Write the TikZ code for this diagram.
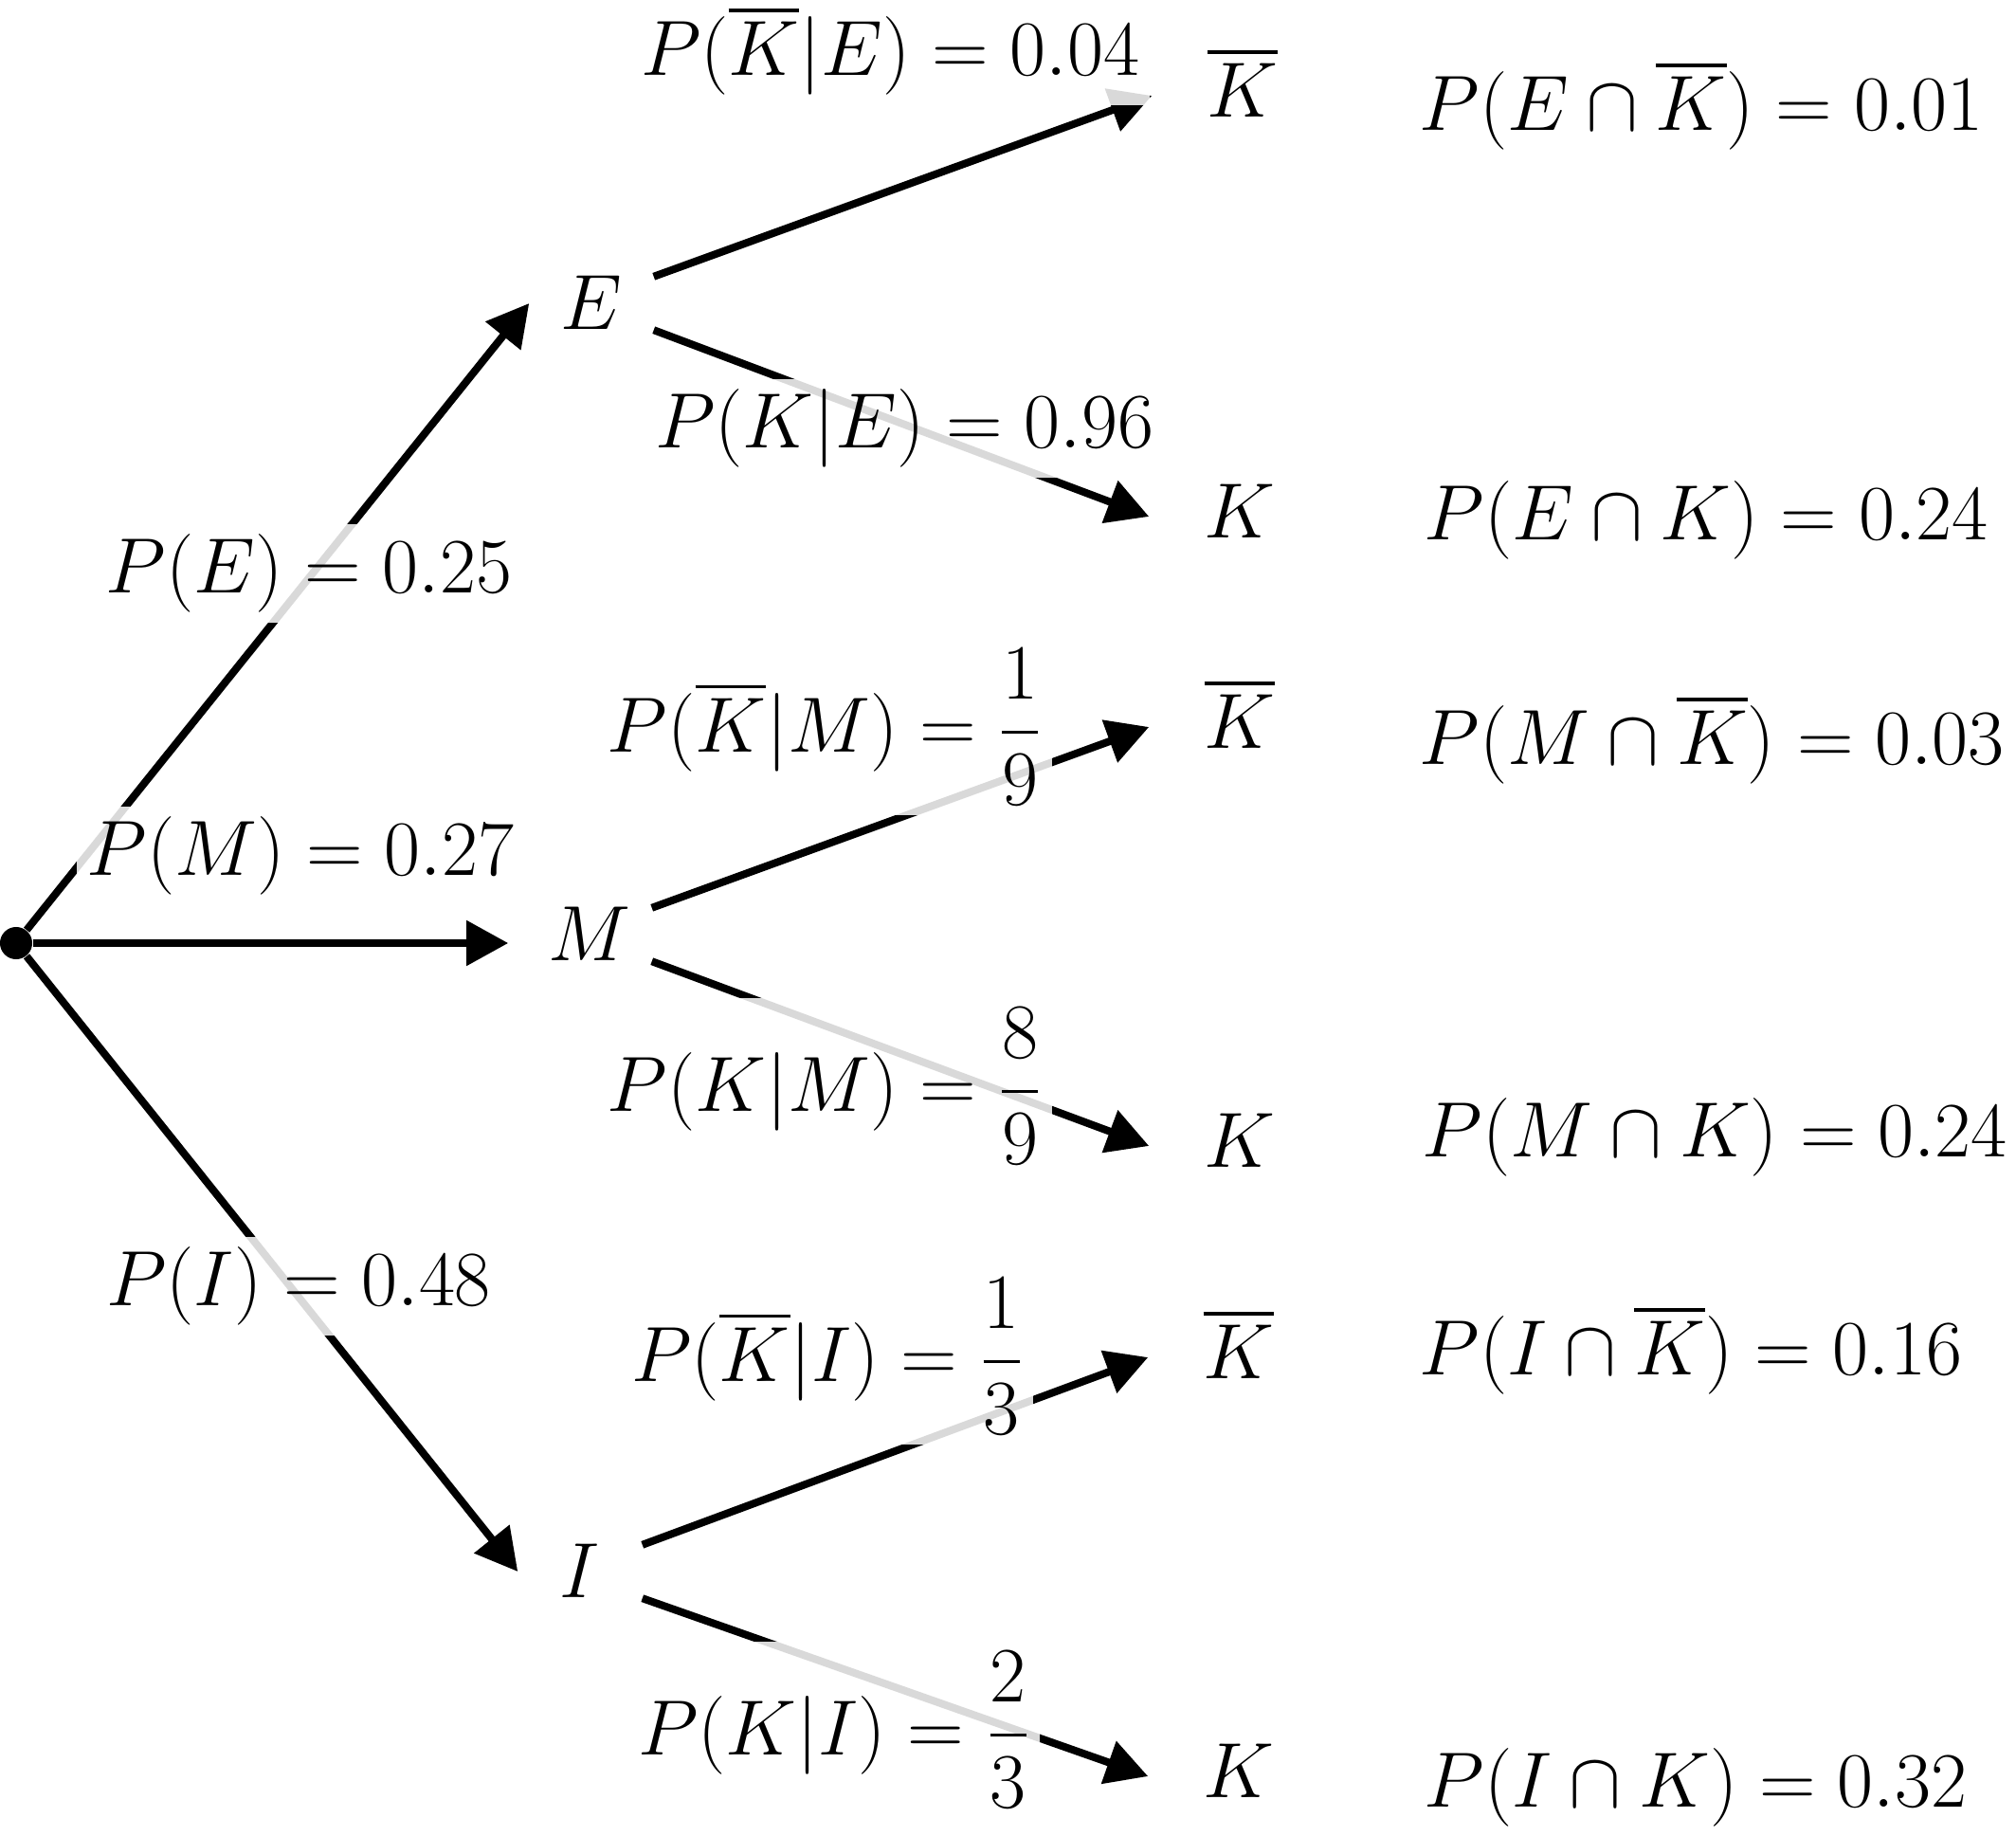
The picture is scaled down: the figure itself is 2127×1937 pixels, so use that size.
\documentclass[tikz,border=0pt]{standalone}
\usepackage{fix-cm}
\usepackage{amsmath}
\usetikzlibrary{arrows.meta}

\begin{document}
\begin{tikzpicture}[x=0.01cm, y=-0.01cm,
    font=\fontsize{23.5}{28}\selectfont,
    arr/.style={line width=0.08cm, -{Triangle[length=0.44cm, width=0.46cm]}},
    branch/.style={inner sep=0pt, minimum width=1.3cm, text height=0.55cm, text depth=0pt},
    leaf/.style={inner sep=0pt, minimum width=1.9cm, text height=0.45cm, text depth=0pt},
    prob/.style={fill=white, fill opacity=0.85, text opacity=1, inner sep=3pt},
    joint/.style={anchor=west, inner sep=0pt}]
\useasboundingbox (0,0) rectangle (2127,1937);

\node[circle, fill, inner sep=0pt, minimum size=0.34cm] (root) at (17,995) {};

\node[branch] (E) at (624,320) {$E$};
\node[branch] (M) at (622,986) {$M$};
\node[branch] (I) at (612,1658) {$I$};

\node[leaf] (Kb1) at (1311,101) {$\overline{K}$};
\node[leaf] (K1) at (1308,545) {$K$};
\node[leaf] (Kb2) at (1308,767) {$\overline{K}$};
\node[leaf] (K2) at (1308,1209) {$K$};
\node[leaf] (Kb3) at (1307,1432) {$\overline{K}$};
\node[leaf] (K3) at (1307,1874) {$K$};

\draw[arr] (root) -- (E.west);
\draw[arr] (root) -- ([xshift=-0.2cm]root -| M.west);
\draw[arr] (root) -- (I.west);

\draw[arr] (E.north east) -- (Kb1.west);
\draw[arr] (E.south east) -- (K1.west);
\draw[arr] (M.north east) -- (Kb2.west);
\draw[arr] (M.south east) -- (K2.west);
\draw[arr] (I.north east) -- (Kb3.west);
\draw[arr] (I.south east) -- (K3.west);

% branch probabilities
\node[prob] (pE) at (326,605) {$P(E) = 0.25$};
\node[prob] (pM) at (317,903) {$P(M) = 0.27$};
\node[prob] (pI) at (315,1357) {$P(I) = 0.48$};

\node[prob] (pKbE) at (939,53) {$P(\overline{K}|E) = 0.04$};
\node[prob] (pKE) at (954,452) {$P(K|E) = 0.96$};
\node[prob] (pKbM) at (870,767) {$P(\overline{K}|M) = \dfrac{1}{9}$};
\node[prob] (pKM) at (870,1146) {$P(K|M) = \dfrac{8}{9}$};
\node[prob] (pKbI) at (873,1431) {$P(\overline{K}|I) = \dfrac{1}{3}$};
\node[prob] (pKI) at (880,1825) {$P(K|I) = \dfrac{2}{3}$};

% joint probabilities
\node[joint] (jEKb) at (1497,111) {$P(E \cap \overline{K}) = 0.01$};
\node[joint] (jEK) at (1502,549) {$P(E \cap K) = 0.24$};
\node[joint] (jMKb) at (1497,780) {$P(M \cap \overline{K}) = 0.03$};
\node[joint] (jMK) at (1500,1200) {$P(M \cap K) = 0.24$};
\node[joint] (jIKb) at (1497,1424) {$P(I \cap \overline{K}) = 0.16$};
\node[joint] (jIK) at (1502,1886) {$P(I \cap K) = 0.32$};
\end{tikzpicture}
\end{document}
